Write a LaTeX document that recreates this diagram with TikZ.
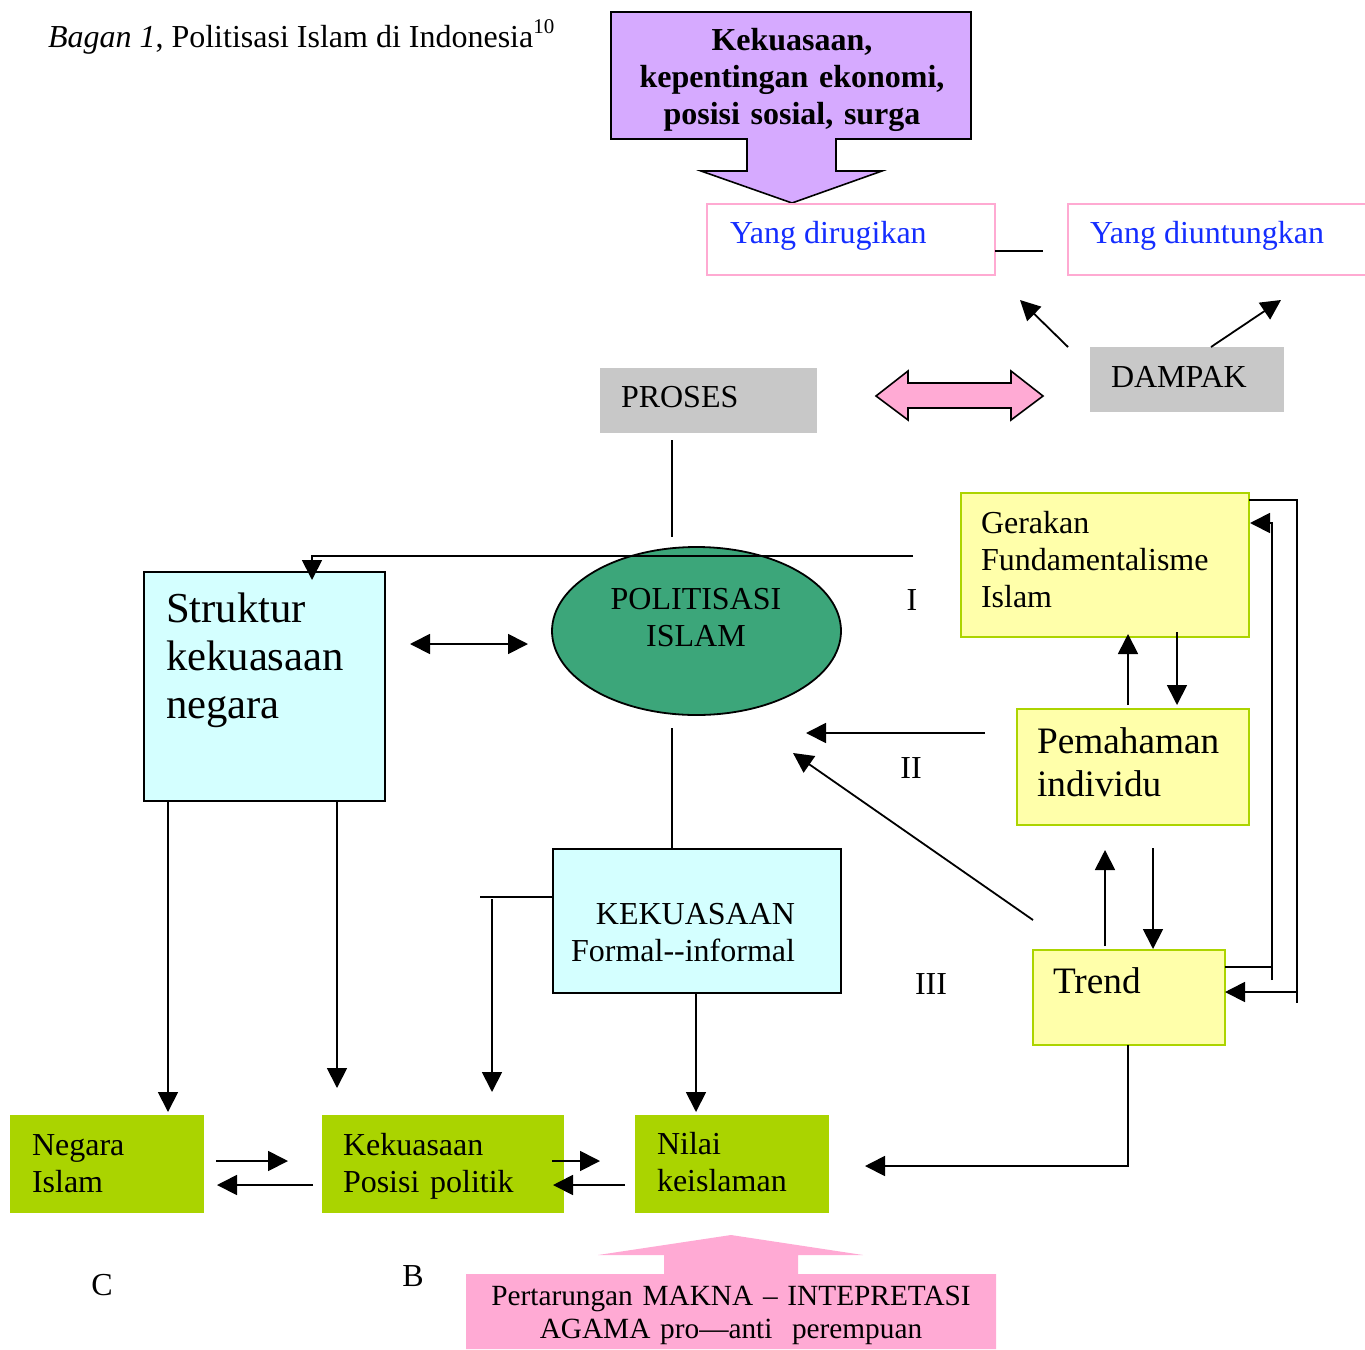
\documentclass[tikz,border=0pt]{standalone}
\usepackage{fontspec}
\setmainfont{Liberation Serif}
\usetikzlibrary{arrows.meta,shapes.geometric}
\definecolor{purpleC}{RGB}{214,170,255}
\definecolor{pinkline}{RGB}{255,170,210}
\definecolor{blueT}{RGB}{20,45,255}
\definecolor{grayC}{RGB}{200,200,200}
\definecolor{pinkC}{RGB}{255,170,212}
\definecolor{greenE}{RGB}{60,166,122}
\definecolor{cyanC}{RGB}{212,255,255}
\definecolor{yellowC}{RGB}{255,255,170}
\definecolor{yellowB}{RGB}{172,212,0}
\definecolor{greenC}{RGB}{170,212,0}
\newcommand\fA{\fontsize{32}{37}\selectfont}
\newcommand\fB{\fontsize{42.7}{48}\selectfont}
\newcommand\fC{\fontsize{37.3}{43}\selectfont}
\newcommand\fD{\fontsize{29.3}{33}\selectfont}
\begin{document}
\begin{tikzpicture}[x=1pt,y=-1pt,
  box/.style={inner sep=0pt, outer sep=0pt, anchor=north west},
  blackbox/.style={box, draw=black, line width=1.8pt},
  graybox/.style={box, fill=grayC},
  pinkbox/.style={box, draw=pinkline, line width=1.6pt, fill=white},
  yellowbox/.style={box, draw=yellowB, line width=1.8pt, fill=yellowC},
  greenbox/.style={box, fill=greenC},
  txt/.style={inner sep=0pt, outer sep=0pt, font=\fA, anchor=base west},
  mtxt/.style={txt, text width=#1, align=left},
  ln/.style={line width=1.8pt, draw=black},
  arr/.style={ln, -{Triangle[length=20pt,width=20pt]}},
  darr/.style={ln, {Triangle[length=20pt,width=20pt]}-{Triangle[length=20pt,width=20pt]}}
]
\useasboundingbox (0,0) rectangle (1365,1349);

% title
\node[txt] (title) at (48,47) {\textit{Bagan 1}, Politisasi Islam di Indonesia\raisebox{14pt}{\fontsize{21}{21}\selectfont 10}};

% purple block arrow
\path[draw=black, line width=1.6pt, fill=purpleC]
  (611,12) -- (971,12) -- (971,139) -- (836,139) -- (836,171) -- (882,171)
  -- (792,203) -- (701,171) -- (747,171) -- (747,139) -- (611,139) -- cycle;
\node[txt, anchor=base, text width=360pt, align=center, font=\fA\bfseries] (motif) at (792,50)
  {Kekuasaan,\\kepentingan ekonomi,\\posisi sosial, surga};

% Yang boxes
\node[pinkbox, minimum width=288pt, minimum height=71pt] (rugi) at (707,204) {};
\node[pinkbox, minimum width=310pt, minimum height=71pt] (untung) at (1068,204) {};
\node[txt, text=blueT] (rugit) at (730,243) {Yang dirugikan};
\node[txt, text=blueT] (untungt) at (1090,243) {Yang diuntungkan};
\coordinate (c1) at (1043,251);
\draw[ln] (c1 -| rugi.east) -- (c1);

% PROSES / DAMPAK
\node[graybox, minimum width=217pt, minimum height=65pt] (proses) at (600,368) {};
\node[txt] (prosest) at (621,407) {PROSES};
\node[graybox, minimum width=194pt, minimum height=65pt] (dampak) at (1090,347) {};
\node[txt] (dampakt) at (1111,387) {DAMPAK};
\coordinate (d1s) at (1068,347); \coordinate (d1e) at (1020,300);
\coordinate (d2s) at (1211,347); \coordinate (d2e) at (1281,300);
\draw[arr] (d1s) -- (d1e);
\draw[arr] (d2s) -- (d2e);

% pink double arrow
\path[draw=black, line width=1.6pt, fill=pinkC]
  (876,396) -- (908,371) -- (908,383) -- (1011,383) -- (1011,371) -- (1043,396)
  -- (1011,420) -- (1011,408) -- (908,408) -- (908,420) -- cycle;

% POLITISASI ISLAM ellipse
\node[ellipse, draw=black, line width=1.8pt, fill=greenE, minimum width=289pt, minimum height=168pt, inner sep=0pt] (pol) at (696.5,631) {};
\node[txt, anchor=base, text width=250pt, align=center] (polt) at (696,609) {POLITISASI\\ISLAM};

\coordinate (p1) at (672,440); \coordinate (p2) at (672,537);
\draw[ln] (p1) -- (p2);

% Struktur
\node[blackbox, fill=cyanC, minimum width=241pt, minimum height=229pt] (struk) at (144,572) {};
\node[mtxt=230pt, font=\fB] (strukt) at (166,622) {Struktur\\kekuasaan\\negara};

% line from right to Struktur
\coordinate (g1) at (913,556); \coordinate (g2) at (312,556); \coordinate (g3) at (312,580);
\draw[arr] (g1) -- (g2) -- (g3);

% double arrow Struktur - Politisasi
\coordinate (s1) at (410,644); \coordinate (s2) at (528,644);
\draw[darr] (s1) -- (s2);

% labels I II III
\node[txt, anchor=base] (lI) at (912,610) {I};
\node[txt, anchor=base] (lII) at (911,778) {II};
\node[txt, anchor=base] (lIII) at (931,994) {III};

% Right column
\node[yellowbox, minimum width=288pt, minimum height=144pt] (gerak) at (961,493) {};
\node[mtxt=280pt] (gerakt) at (981,533) {Gerakan\\Fundamentalisme\\Islam};
\node[yellowbox, minimum width=232pt, minimum height=116pt] (paham) at (1017,709) {};
\node[mtxt=225pt, font=\fC] (pahamt) at (1037,753) {Pemahaman\\individu};
\node[yellowbox, minimum width=192pt, minimum height=95pt] (trend) at (1033,950) {};
\node[txt, font=\fC] (trendt) at (1053,993) {Trend};

\coordinate (a1) at (1128,705); \coordinate (a2) at (1128,634);
\coordinate (a3) at (1177,632); \coordinate (a4) at (1177,705);
\draw[arr] (a1) -- (a2);
\draw[arr] (a3) -- (a4);
\coordinate (b1) at (1105,946); \coordinate (b2) at (1105,850);
\coordinate (b3) at (1153,848); \coordinate (b4) at (1153,949);
\draw[arr] (b1) -- (b2);
\draw[arr] (b3) -- (b4);

% arrows II toward Politisasi
\coordinate (e1) at (985,733); \coordinate (e2) at (806,733);
\draw[arr] (e1) -- (e2);
\coordinate (f1) at (1033,920); \coordinate (f2) at (793,753);
\draw[arr] (f1) -- (f2);

% right loops
\coordinate (r1) at (1272,967); \coordinate (r2) at (1272,980);
\coordinate (r3) at (1272,523); \coordinate (r4) at (1250,523);
\draw[ln] (r1 -| trend.east) -- (r1);
\draw[arr] (r2) -- (r3) -- (r4);
\coordinate (o1) at (1297,500); \coordinate (o2) at (1297,1003);
\coordinate (o3) at (1297,992); \coordinate (o4) at (1225,992);
\draw[ln] (o1 -| gerak.east) -- (o1) -- (o2);
\draw[arr] (o3) -- (o4);

% KEKUASAAN box
\node[blackbox, fill=cyanC, minimum width=288pt, minimum height=144pt] (kek) at (553,849) {};
\node[txt, anchor=base east, text width=260pt, align=right] (kekt) at (795,924) {KEKUASAAN\\Formal-{}-informal};
\coordinate (k1) at (672,728);
\draw[ln] (k1) -- (k1 |- kek.north);
\coordinate (k2) at (480,897);
\draw[ln] (k2 -| kek.west) -- (k2);
\coordinate (k3) at (492,899); \coordinate (k4) at (492,1092);
\draw[arr] (k3) -- (k4);
\coordinate (k5) at (696,1112);
\draw[arr] (k5 |- kek.south) -- (k5);

% green boxes
\node[greenbox, minimum width=194pt, minimum height=98pt] (negara) at (10,1115) {};
\node[mtxt=180pt] (negarat) at (32,1155) {Negara\\Islam};
\node[greenbox, minimum width=242pt, minimum height=98pt] (posisi) at (322,1115) {};
\node[mtxt=230pt] (posisit) at (343,1155) {Kekuasaan\\Posisi politik};
\node[greenbox, minimum width=194pt, minimum height=98pt] (nilai) at (635,1115) {};
\node[mtxt=180pt] (nilait) at (657,1154) {Nilai\\keislaman};

% Struktur down arrows
\coordinate (h1) at (168,1112); \coordinate (h2) at (337,1088);
\draw[arr] (h1 |- struk.south) -- (h1);
\draw[arr] (h2 |- struk.south) -- (h2);

% arrows between green boxes
\coordinate (m1) at (216,1161); \coordinate (m2) at (288,1161);
\coordinate (m3) at (313,1185); \coordinate (m4) at (217,1185);
\draw[arr] (m1) -- (m2);
\draw[arr] (m3) -- (m4);
\coordinate (n1) at (552,1161); \coordinate (n2) at (600,1161);
\coordinate (n3) at (625,1185); \coordinate (n4) at (553,1185);
\draw[arr] (n1) -- (n2);
\draw[arr] (n3) -- (n4);

% Trend to Nilai
\coordinate (t1) at (1128,1166); \coordinate (t2) at (865,1166);
\draw[arr] (t1 |- trend.south) -- (t1) -- (t2);

% C and B
\node[txt, anchor=base] (lC) at (102,1295) {C};
\node[txt, anchor=base] (lB) at (413,1286) {B};

% bottom pink up arrow and box
\path[fill=pinkC]
  (466,1349) -- (466,1274) -- (664,1274) -- (664,1255) -- (598,1255) -- (731,1235)
  -- (863,1255) -- (798,1255) -- (798,1274) -- (996,1274) -- (996,1349) -- cycle;
\node[txt, anchor=base, text width=530pt, align=center, font=\fD] (tarung) at (731,1305)
  {Pertarungan MAKNA – INTEPRETASI\\AGAMA pro—anti\ \ perempuan};
\end{tikzpicture}
\end{document}
